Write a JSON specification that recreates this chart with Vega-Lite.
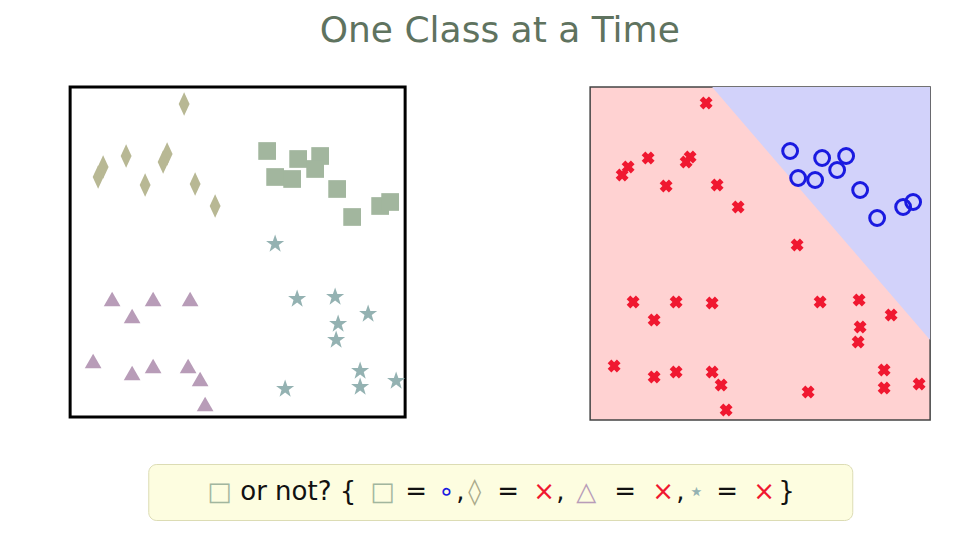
{
  "$schema": "https://vega.github.io/schema/vega-lite/v6.json",
  "background": "#ffffff",
  "padding": {"left": 68, "top": 12, "right": 10, "bottom": 5},
  "title": {"text": "One Class at a Time", "fontSize": 36, "font": "DejaVu Sans", "fontWeight": "normal", "color": "#5f735f", "anchor": "middle", "offset": 36},
  "config": {"concat": {"spacing": 42}},
  "vconcat": [
    {
      "hconcat": [
        {
          "width": 335, "height": 330,
          "view": {"stroke": "black", "strokeWidth": 3, "fill": "white"},
          "data": {"values": [
            {"c":"diamond","x":184,"y":105},{"c":"diamond","x":103,"y":168},{"c":"diamond","x":98,"y":178},{"c":"diamond","x":126,"y":157},{"c":"diamond","x":167,"y":155},{"c":"diamond","x":163,"y":163},{"c":"diamond","x":145,"y":186},{"c":"diamond","x":195,"y":185},{"c":"diamond","x":215,"y":207},
            {"c":"square","x":267,"y":152},{"c":"square","x":298,"y":160},{"c":"square","x":320,"y":157},{"c":"square","x":315,"y":170},{"c":"square","x":275,"y":178},{"c":"square","x":292,"y":180},{"c":"square","x":337,"y":190},{"c":"square","x":352,"y":218},{"c":"square","x":380,"y":207},{"c":"square","x":390,"y":203},
            {"c":"star","x":275,"y":245},{"c":"star","x":297,"y":300},{"c":"star","x":335,"y":298},{"c":"star","x":368,"y":315},{"c":"star","x":338,"y":325},{"c":"star","x":336,"y":341},{"c":"star","x":360,"y":372},{"c":"star","x":360,"y":388},{"c":"star","x":396,"y":382},{"c":"star","x":285,"y":390},
            {"c":"triangle","x":112,"y":300},{"c":"triangle","x":153,"y":300},{"c":"triangle","x":190,"y":300},{"c":"triangle","x":132,"y":317},{"c":"triangle","x":93,"y":362},{"c":"triangle","x":132,"y":374},{"c":"triangle","x":153,"y":367},{"c":"triangle","x":188,"y":367},{"c":"triangle","x":200,"y":380},{"c":"triangle","x":205,"y":405}
          ]},
          "mark": {"type": "point", "filled": true, "opacity": 1},
          "encoding": {
            "x": {"field": "x", "type": "quantitative", "scale": {"domain": [70, 405]}, "axis": null},
            "y": {"field": "y", "type": "quantitative", "scale": {"domain": [418, 88]}, "axis": null},
            "shape": {"field": "c", "type": "nominal", "legend": null, "scale": {"domain": ["diamond","square","star","triangle"], "range": ["M0,-1.3L0.6,0L0,1.3L-0.6,0Z","square","M0,-1.1L0.26,-0.34L1.05,-0.34L0.42,0.13L0.65,0.9L0,0.42L-0.65,0.9L-0.42,0.13L-1.05,-0.34L-0.26,-0.34Z","triangle-up"]}},
            "size": {"field": "c", "type": "nominal", "legend": null, "scale": {"domain": ["diamond","square","star","triangle"], "range": [330, 280, 420, 300]}},
            "color": {"field": "c", "type": "nominal", "legend": null, "scale": {"domain": ["diamond","square","star","triangle"], "range": ["#b8b894","#a2b69e","#94b2b2","#b89cb8"]}}
          }
        },
        {
          "width": 340, "height": 333,
          "view": {"stroke": "#444444", "strokeWidth": 1.5, "fill": "#ffd2d2"},
          "encoding": {
            "x": {"field": "x", "type": "quantitative", "scale": {"domain": [590, 930]}, "axis": null},
            "y": {"field": "y", "type": "quantitative", "scale": {"domain": [420, 87]}, "axis": null}
          },
          "layer": [
            {
              "data": {"values": [{"x": 712, "y": 87, "y2": 87}, {"x": 930, "y": 87, "y2": 340}]},
              "mark": {"type": "area", "color": "#d2d2fa", "opacity": 1},
              "encoding": {"y2": {"field": "y2"}}
            },
            {
              "data": {"values": [
                {"x":706,"y":103},{"x":628,"y":167},{"x":622,"y":175},{"x":648,"y":158},{"x":690,"y":157},{"x":686,"y":162},{"x":666,"y":186},{"x":717,"y":185},{"x":738,"y":207},{"x":797,"y":245},{"x":633,"y":302},{"x":654,"y":320},{"x":676,"y":302},{"x":712,"y":303},{"x":820,"y":302},{"x":859,"y":300},{"x":860,"y":327},{"x":858,"y":342},{"x":891,"y":315},{"x":614,"y":366},{"x":654,"y":377},{"x":676,"y":372},{"x":712,"y":372},{"x":721,"y":385},{"x":726,"y":410},{"x":808,"y":392},{"x":884,"y":370},{"x":884,"y":388},{"x":919,"y":384}
              ]},
              "mark": {"type": "point", "shape": "cross", "angle": 45, "filled": true, "color": "#f01830", "size": 170, "opacity": 1}
            },
            {
              "data": {"values": [
                {"x":790,"y":151},{"x":822,"y":158},{"x":846,"y":156},{"x":837,"y":170},{"x":798,"y":178},{"x":815,"y":180},{"x":860,"y":190},{"x":877,"y":218},{"x":903,"y":207},{"x":913,"y":202}
              ]},
              "mark": {"type": "point", "shape": "circle", "filled": false, "color": "#1a1ae0", "strokeWidth": 3, "size": 220, "opacity": 1}
            }
          ]
        }
      ],
      "spacing": 182
    },
    {
      "width": 704, "height": 56,
      "view": {"stroke": "#dcdcb4", "fill": "#fdfde0", "cornerRadius": 8},
      "data": {"values": [
        {"t":"□","x":59,"c":"#a2b69e"},
        {"t":"or not? {","x":92,"c":"#111111"},
        {"t":"□","x":222,"c":"#a2b69e"},
        {"t":"=","x":257,"c":"#111111"},
        {"t":"∘","x":290,"c":"#1a1ae0"},
        {"t":",","x":308,"c":"#111111"},
        {"t":"◊","x":320,"c":"#a9a98a"},
        {"t":"=","x":349,"c":"#111111"},
        {"t":"×","x":385,"c":"#f01830"},
        {"t":",","x":408,"c":"#111111"},
        {"t":"△","x":428,"c":"#b89cb8"},
        {"t":"=","x":466,"c":"#111111"},
        {"t":"×","x":504,"c":"#f01830"},
        {"t":",","x":528,"c":"#111111"},
        {"t":"⋆","x":540,"c":"#94b2b2"},
        {"t":"=","x":568,"c":"#111111"},
        {"t":"×","x":605,"c":"#f01830"},
        {"t":"}","x":630,"c":"#111111"}
      ]},
      "mark": {"type": "text", "align": "left", "baseline": "middle", "fontSize": 26, "font": "DejaVu Sans"},
      "encoding": {
        "x": {"field": "x", "type": "quantitative", "scale": {"domain": [0, 704]}, "axis": null},
        "y": {"datum": 0.5, "type": "quantitative", "scale": {"domain": [0, 1]}, "axis": null},
        "text": {"field": "t"},
        "color": {"field": "c", "type": "nominal", "scale": null}
      }
    }
  ],
  "center": true
}
